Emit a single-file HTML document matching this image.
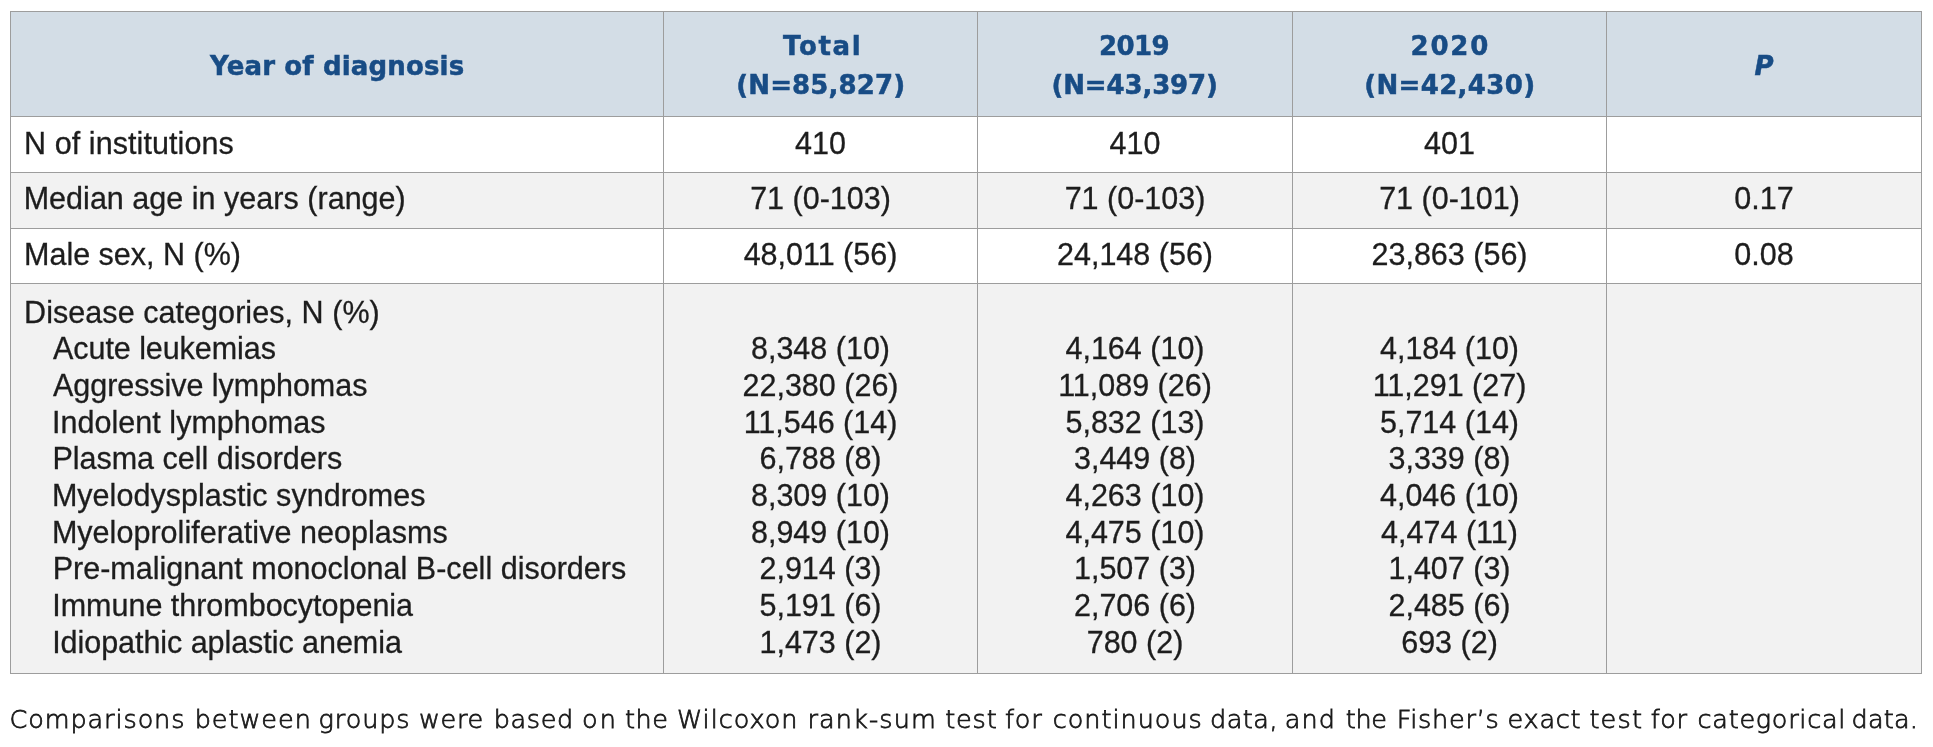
<!DOCTYPE html>
<html><head><meta charset="utf-8"><title>Table</title>
<style>
html,body{margin:0;padding:0;background:#fff;}
#w{position:relative;width:1933px;height:747px;overflow:hidden;background:#fff;will-change:transform;}
#w div{position:absolute;white-space:pre;line-height:1;}
.hl{height:1px;background:#9d9d9d;}
.vl{width:1px;background:#9d9d9d;}
.b{font-family:"Liberation Sans",Arial,sans-serif;font-size:30.5px;color:#1d1d1d;-webkit-text-stroke:0.3px #1d1d1d;}
.h{font-family:"DejaVu Sans","Liberation Sans",sans-serif;font-weight:bold;font-size:26px;color:#184c85;-webkit-text-stroke:0.5px #184c85;}
.f{font-family:"DejaVu Sans","Liberation Sans",sans-serif;font-weight:200;-webkit-text-stroke:0.8px #1a1a1a;font-size:25.5px;color:#1a1a1a;}
.c{width:600px;text-align:center;}
</style></head><body><div id="w">
<div class="bg" style="left:11px;top:12px;width:652px;height:104px;background:#d3dde6"></div>
<div class="bg" style="left:664px;top:12px;width:313px;height:104px;background:#d3dde6"></div>
<div class="bg" style="left:978px;top:12px;width:314px;height:104px;background:#d3dde6"></div>
<div class="bg" style="left:1293px;top:12px;width:313px;height:104px;background:#d3dde6"></div>
<div class="bg" style="left:1607px;top:12px;width:314px;height:104px;background:#d3dde6"></div>
<div class="bg" style="left:11px;top:117px;width:652px;height:55px;background:#ffffff"></div>
<div class="bg" style="left:664px;top:117px;width:313px;height:55px;background:#ffffff"></div>
<div class="bg" style="left:978px;top:117px;width:314px;height:55px;background:#ffffff"></div>
<div class="bg" style="left:1293px;top:117px;width:313px;height:55px;background:#ffffff"></div>
<div class="bg" style="left:1607px;top:117px;width:314px;height:55px;background:#ffffff"></div>
<div class="bg" style="left:11px;top:173px;width:652px;height:55px;background:#f2f2f2"></div>
<div class="bg" style="left:664px;top:173px;width:313px;height:55px;background:#f2f2f2"></div>
<div class="bg" style="left:978px;top:173px;width:314px;height:55px;background:#f2f2f2"></div>
<div class="bg" style="left:1293px;top:173px;width:313px;height:55px;background:#f2f2f2"></div>
<div class="bg" style="left:1607px;top:173px;width:314px;height:55px;background:#f2f2f2"></div>
<div class="bg" style="left:11px;top:229px;width:652px;height:54px;background:#ffffff"></div>
<div class="bg" style="left:664px;top:229px;width:313px;height:54px;background:#ffffff"></div>
<div class="bg" style="left:978px;top:229px;width:314px;height:54px;background:#ffffff"></div>
<div class="bg" style="left:1293px;top:229px;width:313px;height:54px;background:#ffffff"></div>
<div class="bg" style="left:1607px;top:229px;width:314px;height:54px;background:#ffffff"></div>
<div class="bg" style="left:11px;top:284px;width:652px;height:389px;background:#f2f2f2"></div>
<div class="bg" style="left:664px;top:284px;width:313px;height:389px;background:#f2f2f2"></div>
<div class="bg" style="left:978px;top:284px;width:314px;height:389px;background:#f2f2f2"></div>
<div class="bg" style="left:1293px;top:284px;width:313px;height:389px;background:#f2f2f2"></div>
<div class="bg" style="left:1607px;top:284px;width:314px;height:389px;background:#f2f2f2"></div>
<div class="hl" style="left:10px;top:11px;width:1912px"></div>
<div class="hl" style="left:10px;top:116px;width:1912px"></div>
<div class="hl" style="left:10px;top:172px;width:1912px"></div>
<div class="hl" style="left:10px;top:228px;width:1912px"></div>
<div class="hl" style="left:10px;top:283px;width:1912px"></div>
<div class="hl" style="left:10px;top:673px;width:1912px"></div>
<div class="vl" style="left:10px;top:11px;height:663px"></div>
<div class="vl" style="left:663px;top:11px;height:663px"></div>
<div class="vl" style="left:977px;top:11px;height:663px"></div>
<div class="vl" style="left:1292px;top:11px;height:663px"></div>
<div class="vl" style="left:1606px;top:11px;height:663px"></div>
<div class="vl" style="left:1921px;top:11px;height:663px"></div>
<div class="h" style="left:210.1px;top:53px;letter-spacing:0.150px">Year of diagnosis</div>
<div class="h" style="left:783.0px;top:33px;letter-spacing:1.675px">Total</div>
<div class="h" style="left:736.3px;top:72px;letter-spacing:0.122px">(N=85,827)</div>
<div class="h" style="left:1099.0px;top:33px;letter-spacing:-0.567px">2019</div>
<div class="h" style="left:1051.4px;top:72px;letter-spacing:-0.122px">(N=43,397)</div>
<div class="h" style="left:1410.5px;top:33px;letter-spacing:1.833px">2020</div>
<div class="h" style="left:1364.2px;top:72px;letter-spacing:0.356px">(N=42,430)</div>
<div class="h c" style="left:1464.0px;top:53px"><i>P</i></div>
<div class="b" style="left:24.0px;top:128px;letter-spacing:0.075px">N of institutions</div>
<div class="b c" style="left:520.5px;top:128px">410</div>
<div class="b c" style="left:835.0px;top:128px">410</div>
<div class="b c" style="left:1149.5px;top:128px">401</div>
<div class="b" style="left:23.7px;top:183px;letter-spacing:0.023px">Median age in years (range)</div>
<div class="b c" style="left:520.5px;top:183px">71 (0-103)</div>
<div class="b c" style="left:835.0px;top:183px">71 (0-103)</div>
<div class="b c" style="left:1149.5px;top:183px">71 (0-101)</div>
<div class="b c" style="left:1464.0px;top:183px">0.17</div>
<div class="b" style="left:24.0px;top:239px;letter-spacing:0.007px">Male sex, N (%)</div>
<div class="b c" style="left:520.5px;top:239px">48,011 (56)</div>
<div class="b c" style="left:835.0px;top:239px">24,148 (56)</div>
<div class="b c" style="left:1149.5px;top:239px">23,863 (56)</div>
<div class="b c" style="left:1464.0px;top:239px">0.08</div>
<div class="b" style="left:24.1px;top:297px;letter-spacing:0.058px">Disease categories, N (%)</div>
<div class="b" style="left:53.1px;top:333px;letter-spacing:-0.071px">Acute leukemias</div>
<div class="b c" style="left:520.5px;top:333px">8,348 (10)</div>
<div class="b c" style="left:835.0px;top:333px">4,164 (10)</div>
<div class="b c" style="left:1149.5px;top:333px">4,184 (10)</div>
<div class="b" style="left:53.0px;top:370px;letter-spacing:-0.047px">Aggressive lymphomas</div>
<div class="b c" style="left:520.5px;top:370px">22,380 (26)</div>
<div class="b c" style="left:835.0px;top:370px">11,089 (26)</div>
<div class="b c" style="left:1149.5px;top:370px">11,291 (27)</div>
<div class="b" style="left:52.0px;top:407px;letter-spacing:0.035px">Indolent lymphomas</div>
<div class="b c" style="left:520.5px;top:407px">11,546 (14)</div>
<div class="b c" style="left:835.0px;top:407px">5,832 (13)</div>
<div class="b c" style="left:1149.5px;top:407px">5,714 (14)</div>
<div class="b" style="left:52.4px;top:443px;letter-spacing:-0.005px">Plasma cell disorders</div>
<div class="b c" style="left:520.5px;top:443px">6,788 (8)</div>
<div class="b c" style="left:835.0px;top:443px">3,449 (8)</div>
<div class="b c" style="left:1149.5px;top:443px">3,339 (8)</div>
<div class="b" style="left:51.9px;top:480px;letter-spacing:0.030px">Myelodysplastic syndromes</div>
<div class="b c" style="left:520.5px;top:480px">8,309 (10)</div>
<div class="b c" style="left:835.0px;top:480px">4,263 (10)</div>
<div class="b c" style="left:1149.5px;top:480px">4,046 (10)</div>
<div class="b" style="left:51.9px;top:517px;letter-spacing:0.030px">Myeloproliferative neoplasms</div>
<div class="b c" style="left:520.5px;top:517px">8,949 (10)</div>
<div class="b c" style="left:835.0px;top:517px">4,475 (10)</div>
<div class="b c" style="left:1149.5px;top:517px">4,474 (11)</div>
<div class="b" style="left:52.7px;top:553px;letter-spacing:0.014px">Pre-malignant monoclonal B-cell disorders</div>
<div class="b c" style="left:520.5px;top:553px">2,914 (3)</div>
<div class="b c" style="left:835.0px;top:553px">1,507 (3)</div>
<div class="b c" style="left:1149.5px;top:553px">1,407 (3)</div>
<div class="b" style="left:52.25px;top:590px;letter-spacing:-0.012px">Immune thrombocytopenia</div>
<div class="b c" style="left:520.5px;top:590px">5,191 (6)</div>
<div class="b c" style="left:835.0px;top:590px">2,706 (6)</div>
<div class="b c" style="left:1149.5px;top:590px">2,485 (6)</div>
<div class="b" style="left:52.2px;top:627px;letter-spacing:-0.052px">Idiopathic aplastic anemia</div>
<div class="b c" style="left:520.5px;top:627px">1,473 (2)</div>
<div class="b c" style="left:835.0px;top:627px">780 (2)</div>
<div class="b c" style="left:1149.5px;top:627px">693 (2)</div>
<div class="f" style="left:9.6px;top:707px;letter-spacing:0.890px">Comparisons </div>
<div class="f" style="left:194.7px;top:707px;letter-spacing:0.983px">between </div>
<div class="f" style="left:318.6px;top:707px;letter-spacing:0.920px">groups </div>
<div class="f" style="left:419.0px;top:707px;letter-spacing:0.667px">were </div>
<div class="f" style="left:493.7px;top:707px;letter-spacing:0.625px">based </div>
<div class="f" style="left:582.0px;top:707px;letter-spacing:2.200px">on </div>
<div class="f" style="left:625.0px;top:707px;letter-spacing:0.500px">the </div>
<div class="f" style="left:677.0px;top:707px;letter-spacing:0.971px">Wilcoxon </div>
<div class="f" style="left:807.5px;top:707px;letter-spacing:1.114px">rank-sum </div>
<div class="f" style="left:945.2px;top:707px;letter-spacing:0.833px">test </div>
<div class="f" style="left:1005.0px;top:707px;letter-spacing:0.850px">for </div>
<div class="f" style="left:1052.8px;top:707px;letter-spacing:0.978px">continuous </div>
<div class="f" style="left:1210.0px;top:707px;letter-spacing:0.500px">data, </div>
<div class="f" style="left:1284.7px;top:707px;letter-spacing:1.150px">and </div>
<div class="f" style="left:1345.8px;top:707px;letter-spacing:-0.400px">the </div>
<div class="f" style="left:1396.7px;top:707px;letter-spacing:0.743px">Fisher’s </div>
<div class="f" style="left:1507.6px;top:707px;letter-spacing:0.750px">exact </div>
<div class="f" style="left:1589.4px;top:707px;letter-spacing:1.200px">test </div>
<div class="f" style="left:1650.8px;top:707px;letter-spacing:0.600px">for </div>
<div class="f" style="left:1697.6px;top:707px;letter-spacing:0.720px">categorical </div>
<div class="f" style="left:1851.6px;top:707px;letter-spacing:0.200px">data.</div>
</div></body></html>
